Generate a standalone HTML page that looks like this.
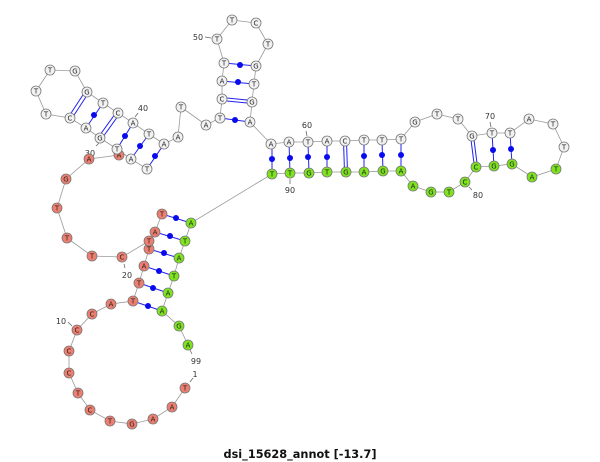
<!DOCTYPE html>
<html><head><meta charset="utf-8"><style>
html,body{margin:0;padding:0;background:#fff;}
svg{display:block;}
.n circle{stroke:#777;stroke-width:0.8;}
.w circle{fill:#f2f2f2;}
.r circle{fill:#ee7f70;}
.g circle{fill:#7ee41e;}
text{font-family:"DejaVu Sans","Liberation Sans",sans-serif;}
.n text{font-size:7px;text-anchor:middle;fill:#222;}
.lb{font-size:8px;fill:#333;text-anchor:middle;}
.bb{fill:none;stroke:#999;stroke-width:0.8;}
.bp{stroke:#2222ee;stroke-width:1;}
</style></head><body>
<svg width="600" height="462" viewBox="0 0 600 462" xmlns="http://www.w3.org/2000/svg">
<polyline class="bb" points="185,388 172,407 153,419 132,424 110,421 90,410 78,393 69,373 69,351 77,330 92,314 111,304 133,301 139,283 144,266 149,249 149,241 155,232 162,214"/>
<polyline class="bb" points="149,241 122,257 92,256 67,238 57,208 66,179 89,159 119,155 117,149"/>
<polyline class="bb" points="117,149 100,138 86,128 70,118 46,114 36,91 50,70 75,71 87,92 103,103 118,113 133,123 149,134 164,144 178,137 181,107 206,125 220,118 222,99 222,81 224,63 217,39 232,20 256,23 268,44 256,66 254,84 252,102 250,122 271,144 289,142 308,142 327,141 345,141 364,140 382,140 401,139 415,122 437,114 458,119 472,136 492,133 510,133 529,119 553,124 564,147 556,169 532,177 512,164 494,166 476,167 465,182 449,192 431,192 413,186 401,171 383,171 364,172 346,172 327,172 309,173 290,173 272,174 191,223 185,241 179,258 174,276 168,293 162,311 179,326 188,345"/>
<polyline class="bb" points="117,149 131,159 147,169 164,144"/>
<g class="bp">
<line x1="162" y1="214" x2="191" y2="223"/><line x1="155" y1="232" x2="185" y2="241"/><line x1="149" y1="249" x2="179" y2="258"/><line x1="144" y1="266" x2="174" y2="276"/><line x1="139" y1="283" x2="168" y2="293"/><line x1="133" y1="301" x2="162" y2="311"/>
<line x1="103" y1="103" x2="86" y2="128"/><line x1="133" y1="123" x2="117" y2="149"/><line x1="149" y1="134" x2="131" y2="159"/><line x1="164" y1="144" x2="147" y2="169"/>
<line x1="68.5" y1="117" x2="85.5" y2="91"/><line x1="71.5" y1="119" x2="88.5" y2="93"/>
<line x1="98.5" y1="137" x2="116.5" y2="112"/><line x1="101.5" y1="139" x2="119.5" y2="114"/>
<line x1="220" y1="118" x2="250" y2="122"/><line x1="222" y1="81" x2="254" y2="84"/><line x1="224" y1="63" x2="256" y2="66"/>
<line x1="222" y1="97.5" x2="252" y2="100.5"/><line x1="222" y1="100.5" x2="252" y2="103.5"/>
<line x1="272" y1="144" x2="272" y2="174"/><line x1="289" y1="142" x2="290" y2="173"/><line x1="308" y1="142" x2="309" y2="173"/><line x1="327" y1="141" x2="327" y2="172"/><line x1="364" y1="140" x2="364" y2="172"/><line x1="382" y1="140" x2="383" y2="171"/><line x1="401" y1="139" x2="401" y2="171"/><line x1="492" y1="133" x2="494" y2="166"/><line x1="510" y1="133" x2="512" y2="164"/>
<line x1="343.5" y1="141" x2="344.5" y2="172"/><line x1="346.5" y1="141" x2="347.5" y2="172"/>
<line x1="470.5" y1="136" x2="474.5" y2="167"/><line x1="473.5" y1="136" x2="477.5" y2="167"/>
</g>
<g fill="#0a0aee">
<circle cx="176" cy="218" r="3"/><circle cx="170" cy="236" r="3"/><circle cx="164" cy="253" r="3"/><circle cx="159" cy="271" r="3"/><circle cx="153" cy="288" r="3"/><circle cx="148" cy="306" r="3"/>
<circle cx="94" cy="115" r="3"/><circle cx="125" cy="136" r="3"/><circle cx="140" cy="146" r="3"/><circle cx="155" cy="156" r="3"/>
<circle cx="235" cy="120" r="3"/><circle cx="238" cy="82" r="3"/><circle cx="240" cy="65" r="3"/>
<circle cx="272" cy="159" r="3"/><circle cx="290" cy="158" r="3"/><circle cx="308" cy="157" r="3"/><circle cx="327" cy="157" r="3"/><circle cx="364" cy="156" r="3"/><circle cx="382" cy="155" r="3"/><circle cx="401" cy="155" r="3"/><circle cx="493" cy="150" r="3"/><circle cx="511" cy="149" r="3"/>
</g>
<g stroke="#666" stroke-width="0.8">
<line x1="290" y1="179" x2="290" y2="184"/><line x1="306" y1="131" x2="307" y2="136"/><line x1="490" y1="122" x2="491" y2="127"/><line x1="469" y1="187" x2="472" y2="190"/>
<line x1="205" y1="37" x2="211" y2="38"/><line x1="138" y1="113" x2="135" y2="117"/><line x1="96" y1="146" x2="99" y2="143"/>
<line x1="124" y1="264" x2="125" y2="268"/><line x1="68" y1="322" x2="72" y2="326"/><line x1="190" y1="350" x2="192" y2="354"/><line x1="190" y1="382" x2="193" y2="378"/>
</g>
<g class="lb">
<text x="290" y="193">90</text><text x="307" y="128">60</text><text x="490" y="119">70</text><text x="478" y="198">80</text>
<text x="198" y="40">50</text><text x="143" y="111">40</text><text x="90" y="156">30</text>
<text x="127" y="278">20</text><text x="61" y="324">10</text><text x="196" y="364">99</text><text x="195" y="377">1</text>
</g>
<g class="n r">
<g><circle cx="185" cy="388" r="5"/><text x="185" y="390.5">T</text></g>
<g><circle cx="172" cy="407" r="5"/><text x="172" y="409.5">A</text></g>
<g><circle cx="153" cy="419" r="5"/><text x="153" y="421.5">A</text></g>
<g><circle cx="132" cy="424" r="5"/><text x="132" y="426.5">G</text></g>
<g><circle cx="110" cy="421" r="5"/><text x="110" y="423.5">T</text></g>
<g><circle cx="90" cy="410" r="5"/><text x="90" y="412.5">C</text></g>
<g><circle cx="78" cy="393" r="5"/><text x="78" y="395.5">T</text></g>
<g><circle cx="69" cy="373" r="5"/><text x="69" y="375.5">C</text></g>
<g><circle cx="69" cy="351" r="5"/><text x="69" y="353.5">C</text></g>
<g><circle cx="77" cy="330" r="5"/><text x="77" y="332.5">C</text></g>
<g><circle cx="92" cy="314" r="5"/><text x="92" y="316.5">C</text></g>
<g><circle cx="111" cy="304" r="5"/><text x="111" y="306.5">A</text></g>
<g><circle cx="133" cy="301" r="5"/><text x="133" y="303.5">T</text></g>
<g><circle cx="139" cy="283" r="5"/><text x="139" y="285.5">T</text></g>
<g><circle cx="144" cy="266" r="5"/><text x="144" y="268.5">A</text></g>
<g><circle cx="149" cy="249" r="5"/><text x="149" y="251.5">T</text></g>
<g><circle cx="149" cy="241" r="5"/><text x="149" y="243.5">T</text></g>
<g><circle cx="155" cy="232" r="5"/><text x="155" y="234.5">A</text></g>
<g><circle cx="162" cy="214" r="5"/><text x="162" y="216.5">T</text></g>
<g><circle cx="122" cy="257" r="5"/><text x="122" y="259.5">C</text></g>
<g><circle cx="92" cy="256" r="5"/><text x="92" y="258.5">T</text></g>
<g><circle cx="67" cy="238" r="5"/><text x="67" y="240.5">T</text></g>
<g><circle cx="57" cy="208" r="5"/><text x="57" y="210.5">T</text></g>
<g><circle cx="66" cy="179" r="5"/><text x="66" y="181.5">G</text></g>
<g><circle cx="89" cy="159" r="5"/><text x="89" y="161.5">A</text></g>
<g><circle cx="119" cy="155" r="5"/><text x="119" y="157.5">A</text></g>
</g>
<g class="n w">
<g><circle cx="117" cy="149" r="5"/><text x="117" y="151.5">T</text></g>
<g><circle cx="100" cy="138" r="5"/><text x="100" y="140.5">G</text></g>
<g><circle cx="86" cy="128" r="5"/><text x="86" y="130.5">A</text></g>
<g><circle cx="70" cy="118" r="5"/><text x="70" y="120.5">C</text></g>
<g><circle cx="46" cy="114" r="5"/><text x="46" y="116.5">T</text></g>
<g><circle cx="36" cy="91" r="5"/><text x="36" y="93.5">T</text></g>
<g><circle cx="50" cy="70" r="5"/><text x="50" y="72.5">T</text></g>
<g><circle cx="75" cy="71" r="5"/><text x="75" y="73.5">G</text></g>
<g><circle cx="87" cy="92" r="5"/><text x="87" y="94.5">G</text></g>
<g><circle cx="103" cy="103" r="5"/><text x="103" y="105.5">T</text></g>
<g><circle cx="118" cy="113" r="5"/><text x="118" y="115.5">C</text></g>
<g><circle cx="133" cy="123" r="5"/><text x="133" y="125.5">A</text></g>
<g><circle cx="149" cy="134" r="5"/><text x="149" y="136.5">T</text></g>
<g><circle cx="164" cy="144" r="5"/><text x="164" y="146.5">A</text></g>
<g><circle cx="131" cy="159" r="5"/><text x="131" y="161.5">A</text></g>
<g><circle cx="147" cy="169" r="5"/><text x="147" y="171.5">T</text></g>
<g><circle cx="178" cy="137" r="5"/><text x="178" y="139.5">A</text></g>
<g><circle cx="181" cy="107" r="5"/><text x="181" y="109.5">T</text></g>
<g><circle cx="206" cy="125" r="5"/><text x="206" y="127.5">A</text></g>
<g><circle cx="220" cy="118" r="5"/><text x="220" y="120.5">T</text></g>
<g><circle cx="222" cy="99" r="5"/><text x="222" y="101.5">C</text></g>
<g><circle cx="222" cy="81" r="5"/><text x="222" y="83.5">A</text></g>
<g><circle cx="224" cy="63" r="5"/><text x="224" y="65.5">T</text></g>
<g><circle cx="217" cy="39" r="5"/><text x="217" y="41.5">T</text></g>
<g><circle cx="232" cy="20" r="5"/><text x="232" y="22.5">T</text></g>
<g><circle cx="256" cy="23" r="5"/><text x="256" y="25.5">C</text></g>
<g><circle cx="268" cy="44" r="5"/><text x="268" y="46.5">T</text></g>
<g><circle cx="256" cy="66" r="5"/><text x="256" y="68.5">G</text></g>
<g><circle cx="254" cy="84" r="5"/><text x="254" y="86.5">T</text></g>
<g><circle cx="252" cy="102" r="5"/><text x="252" y="104.5">G</text></g>
<g><circle cx="250" cy="122" r="5"/><text x="250" y="124.5">A</text></g>
<g><circle cx="271" cy="144" r="5"/><text x="271" y="146.5">A</text></g>
<g><circle cx="289" cy="142" r="5"/><text x="289" y="144.5">A</text></g>
<g><circle cx="308" cy="142" r="5"/><text x="308" y="144.5">T</text></g>
<g><circle cx="327" cy="141" r="5"/><text x="327" y="143.5">A</text></g>
<g><circle cx="345" cy="141" r="5"/><text x="345" y="143.5">C</text></g>
<g><circle cx="364" cy="140" r="5"/><text x="364" y="142.5">T</text></g>
<g><circle cx="382" cy="140" r="5"/><text x="382" y="142.5">T</text></g>
<g><circle cx="401" cy="139" r="5"/><text x="401" y="141.5">T</text></g>
<g><circle cx="415" cy="122" r="5"/><text x="415" y="124.5">G</text></g>
<g><circle cx="437" cy="114" r="5"/><text x="437" y="116.5">T</text></g>
<g><circle cx="458" cy="119" r="5"/><text x="458" y="121.5">T</text></g>
<g><circle cx="472" cy="136" r="5"/><text x="472" y="138.5">G</text></g>
<g><circle cx="492" cy="133" r="5"/><text x="492" y="135.5">T</text></g>
<g><circle cx="510" cy="133" r="5"/><text x="510" y="135.5">T</text></g>
<g><circle cx="529" cy="119" r="5"/><text x="529" y="121.5">A</text></g>
<g><circle cx="553" cy="124" r="5"/><text x="553" y="126.5">T</text></g>
<g><circle cx="564" cy="147" r="5"/><text x="564" y="149.5">T</text></g>
</g>
<g class="n g">
<g><circle cx="556" cy="169" r="5"/><text x="556" y="171.5">T</text></g>
<g><circle cx="532" cy="177" r="5"/><text x="532" y="179.5">A</text></g>
<g><circle cx="512" cy="164" r="5"/><text x="512" y="166.5">G</text></g>
<g><circle cx="494" cy="166" r="5"/><text x="494" y="168.5">G</text></g>
<g><circle cx="476" cy="167" r="5"/><text x="476" y="169.5">C</text></g>
<g><circle cx="465" cy="182" r="5"/><text x="465" y="184.5">C</text></g>
<g><circle cx="449" cy="192" r="5"/><text x="449" y="194.5">T</text></g>
<g><circle cx="431" cy="192" r="5"/><text x="431" y="194.5">G</text></g>
<g><circle cx="413" cy="186" r="5"/><text x="413" y="188.5">A</text></g>
<g><circle cx="401" cy="171" r="5"/><text x="401" y="173.5">A</text></g>
<g><circle cx="383" cy="171" r="5"/><text x="383" y="173.5">G</text></g>
<g><circle cx="364" cy="172" r="5"/><text x="364" y="174.5">A</text></g>
<g><circle cx="346" cy="172" r="5"/><text x="346" y="174.5">G</text></g>
<g><circle cx="327" cy="172" r="5"/><text x="327" y="174.5">T</text></g>
<g><circle cx="309" cy="173" r="5"/><text x="309" y="175.5">G</text></g>
<g><circle cx="290" cy="173" r="5"/><text x="290" y="175.5">T</text></g>
<g><circle cx="272" cy="174" r="5"/><text x="272" y="176.5">T</text></g>
<g><circle cx="191" cy="223" r="5"/><text x="191" y="225.5">A</text></g>
<g><circle cx="185" cy="241" r="5"/><text x="185" y="243.5">T</text></g>
<g><circle cx="179" cy="258" r="5"/><text x="179" y="260.5">A</text></g>
<g><circle cx="174" cy="276" r="5"/><text x="174" y="278.5">T</text></g>
<g><circle cx="168" cy="293" r="5"/><text x="168" y="295.5">A</text></g>
<g><circle cx="162" cy="311" r="5"/><text x="162" y="313.5">A</text></g>
<g><circle cx="179" cy="326" r="5"/><text x="179" y="328.5">G</text></g>
<g><circle cx="188" cy="345" r="5"/><text x="188" y="347.5">A</text></g>
</g>
<text x="300" y="458" font-size="11.5" font-weight="bold" text-anchor="middle" fill="#111" textLength="153" lengthAdjust="spacingAndGlyphs">dsi_15628_annot [-13.7]</text>
</svg>
</body></html>
